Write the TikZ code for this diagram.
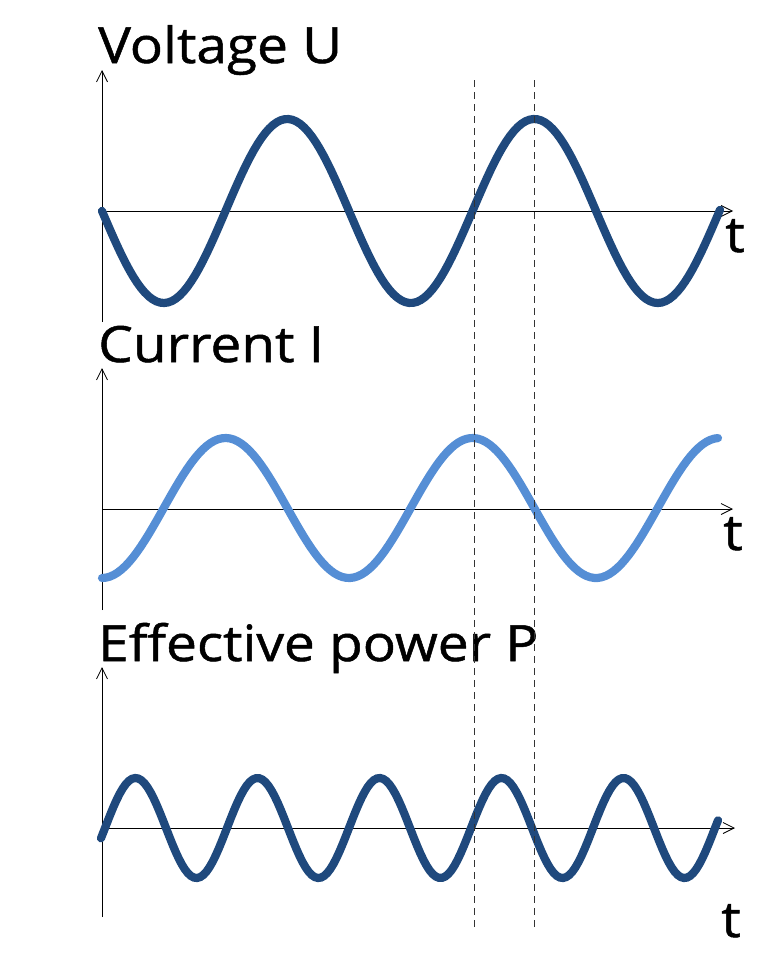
\documentclass[tikz,border=0pt]{standalone}
\usepackage{fontspec}
\setmainfont{Open Sans}[FakeStretch=1.1,FakeBold=1]
\usetikzlibrary{arrows.meta}
\definecolor{darkwave}{RGB}{31,73,125}
\definecolor{lightwave}{RGB}{85,142,213}
\begin{document}
\begin{tikzpicture}[x=1pt,y=-1pt,
    axis/.style={black,line width=0.8pt,-{Straight Barb[length=11pt,width=11pt,line width=0.8pt]}},
    wave/.style={line width=8.2pt,line cap=round},
    title/.style={anchor=base west,inner sep=0pt,font=\fontsize{50}{50}\selectfont},
    tlabel/.style={anchor=base,inner sep=0pt,font=\fontsize{50}{50}\selectfont}]
      \useasboundingbox (0,0) rectangle (766,972);
      \def\T{247};
      \def\Tp{122};
      % origins of the three axes
      \coordinate (uO) at (102,211);
      \coordinate (iO) at (102,509);
      \coordinate (pO) at (102,828);
      \coordinate (uTop) at (102,70);
      \coordinate (uBot) at (102,322);
      \coordinate (uEnd) at (733,211);
      \coordinate (iTop) at (102,368);
      \coordinate (iBot) at (102,610);
      \coordinate (iEnd) at (733,509);
      \coordinate (pTop) at (102,667);
      \coordinate (pBot) at (102,917);
      \coordinate (pEnd) at (735,828);
      % voltage
      \node[title] (uTitle) at (98,63) {Voltage U};
      \draw[axis] (uBot) -- (uTop);
      \draw[axis] (uO) -- (uEnd);
      \draw[wave,darkwave] plot[domain=102:720,samples=160] (\x,{211+92*sin(((\x-102)/\T)*360)});
      \node[tlabel] (uT) at (735,252) {t};
      % current
      \node[title] (iTitle) at (98,362) {Current I};
      \draw[axis] (iBot) -- (iTop);
      \draw[axis] (iO) -- (iEnd);
      \draw[wave,lightwave] plot[domain=102:718,samples=160] (\x,{508+70*cos(((\x-102)/\T)*360)});
      \node[tlabel] (iT) at (733,550) {t};
      % effective power
      \node[title] (pTitle) at (98,661) {Effective power P};
      \draw[axis] (pBot) -- (pTop);
      \draw[axis] (pO) -- (pEnd);
      \draw[wave,darkwave] plot[domain=101:718,samples=200] (\x,{828-50*sin(((\x-105)/\Tp)*360)});
      \node[tlabel] (pT) at (731,937) {t};
      % phase markers
      \coordinate (m1a) at (474,80);
      \coordinate (m1b) at (474,928);
      \coordinate (m2a) at (534,80);
      \coordinate (m2b) at (534,928);
      \draw[dashed,line width=0.8pt,dash pattern=on 7pt off 5pt,black!80] (m1a) -- (m1b);
      \draw[dashed,line width=0.8pt,dash pattern=on 7pt off 5pt,black!80] (m2a) -- (m2b);
    \end{tikzpicture}
\end{document}
